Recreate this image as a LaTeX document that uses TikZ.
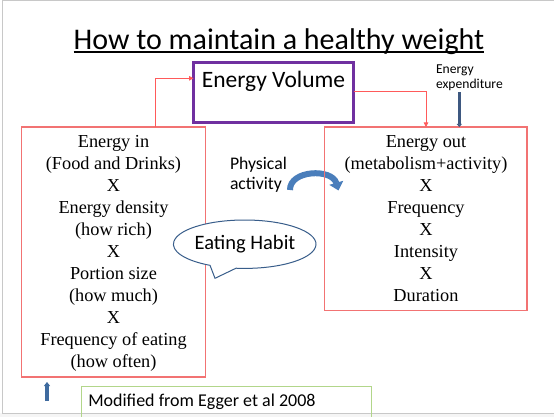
\documentclass[tikz,border=0pt]{standalone}
\usepackage{fontspec}
\setmainfont{Liberation Serif}
\newfontfamily\carlito{Carlito}
\usetikzlibrary{arrows.meta,calc}

\definecolor{boxred}{RGB}{242,115,115}
\definecolor{linkred}{RGB}{255,90,90}
\definecolor{volpurple}{RGB}{112,48,160}
\definecolor{calloutblue}{RGB}{56,93,138}
\definecolor{arrowblue}{RGB}{74,126,187}
\definecolor{slateblue}{RGB}{62,88,128}
\definecolor{notegreen}{RGB}{178,214,138}
\definecolor{framegray}{RGB}{200,200,200}

\begin{document}
\begin{tikzpicture}[x=1pt,y=1pt,
  every node/.style={inner sep=0pt, outer sep=0pt},
  factorbox/.style={draw=boxred, line width=1.1pt},
  link/.style={draw=linkred, line width=0.8pt, -{Triangle[width=4.5pt,length=4.5pt]}},
  serifstack/.style={anchor=base, font=\fontsize{18.3}{22}\selectfont},
]
\useasboundingbox (0,0) rectangle (554,-417);

% slide background and frame
\fill[white] (0,0) rectangle (554,-417);
\fill[gray!8] (0,-413) rectangle (554,-417);
\draw[framegray, line width=0.8pt] (554,-0.5) -- (2.5,-0.5) -- (2.5,-413) -- (554,-413);

% title
\node[anchor=base, font=\carlito\fontsize{30}{36}\selectfont] (title) at (279,-49.3)
  {How to maintain a healthy weight};
\draw[line width=1.8pt] ([yshift=-2.6pt]title.base west) -- ([yshift=-2.6pt]title.base east);

% curved arrow for physical activity (under the box edge)
\coordinate (curlstart) at (290,-190);
\coordinate (curlend) at (338.5,-190.5);
\draw[arrowblue, line width=6pt, -{Triangle[width=14pt,length=8pt]}]
  (curlstart) .. controls (289.5,-170) and (332,-168) .. (curlend);

% energy volume box
\node[draw=volpurple, line width=3pt, minimum width=160pt, minimum height=60pt] (volume) at (273.5,-92.5) {};
\node[anchor=base, font=\carlito\fontsize{23.5}{28}\selectfont] (voltext) at (273.5,-87.3) {Energy Volume};

% energy in / energy out boxes
\node[factorbox, minimum width=184pt, minimum height=250pt] (inbox) at (113.5,-252) {};
\node[factorbox, minimum width=202.5pt, minimum height=183.5pt] (outbox) at (425.75,-218.75) {};

\node[serifstack] (intext) at (113.5,-147.3) {\begin{tabular}[t]{@{}c@{}}
  Energy in\\(Food and Drinks)\\X\\Energy density\\(how rich)\\X\\
  Portion size\\(how much)\\X\\Frequency of eating\\(how often)\end{tabular}};
\node[serifstack] (outtext) at (426,-147.3) {\begin{tabular}[t]{@{}c@{}}
  Energy out\\(metabolism+activity)\\X\\Frequency\\X\\Intensity\\X\\Duration\end{tabular}};

% links between the boxes
\draw[link] ($(inbox.north west)+(133.5,0)$) |- ($(volume.west)+(0,14.2)$);
\draw[link] ($(volume.east)+(0,1.5)$) -| ($(outbox.north west)+(101.5,0)$);

% energy expenditure
\node[anchor=base west, font=\carlito\fontsize{13.6}{15.5}\selectfont] (expend) at (436,-73.5)
  {\begin{tabular}[t]{@{}l@{}}Energy\\expenditure\end{tabular}};
\coordinate (expstart) at (459.3,-92.5);
\draw[slateblue, line width=3pt, -{Triangle[width=5pt,length=3pt]}] (expstart) -- (expstart |- outbox.north);

% physical activity
\node[anchor=base west, font=\carlito\fontsize{17.7}{20}\selectfont] (physical) at (230,-169.3)
  {\begin{tabular}[t]{@{}l@{}}Physical\\activity\end{tabular}};

% eating habit callout
\coordinate (hc) at (244.7,-244.2);
\coordinate (habittip) at (215,-278.3);
\draw[calloutblue, line width=1pt, fill=white]
  ($(hc)+(263:71.3 and 24.2)$) arc[start angle=263, end angle=600.9, x radius=71.3, y radius=24.2]
  -- (habittip) -- cycle;
\node[anchor=base, font=\carlito\fontsize{20.5}{24}\selectfont] (habit) at (245,-249) {Eating Habit};

% small arrow under the energy in box
\coordinate (smallfrom) at (47,-401);
\coordinate (smallto) at (47,-382);
\draw[arrowblue!85!black, line width=3.5pt, -{Triangle[width=6pt,length=4pt]}] (smallfrom) -- (smallto);

% source note
\node[draw=notegreen, line width=1pt, minimum width=290pt, minimum height=31pt, anchor=north west] (source) at (81.5,-386.5) {};
\node[anchor=base west, font=\carlito\fontsize{18}{22}\selectfont] (sourcetext) at (88.3,-406.7)
  {Modified from Egger et al 2008};
\end{tikzpicture}
\end{document}
